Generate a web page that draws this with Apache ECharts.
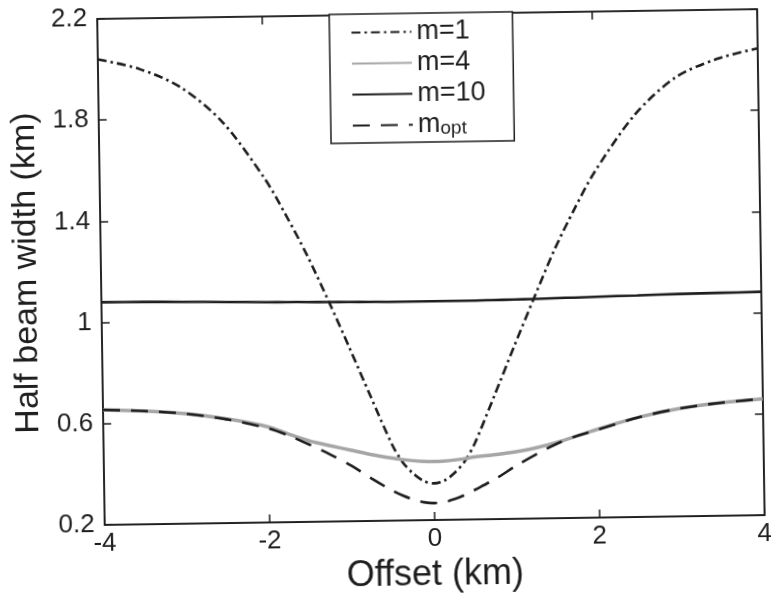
<!DOCTYPE html>
<html>
<head>
<meta charset="utf-8">
<script src="https://cdn.jsdelivr.net/npm/echarts@6/dist/echarts.min.js"></script>
<style>
html,body{margin:0;padding:0;background:#fff;}
#chart{width:771px;height:598px;transform:rotate(-0.85deg);transform-origin:432px 272px;}
</style>
</head>
<body>
<div id="chart"></div>
<script>
const offsets = [-4,-3.5,-3,-2.5,-2,-1.75,-1.5,-1.25,-1,-0.75,-0.5,-0.375,-0.25,-0.125,0,0.125,0.25,0.375,0.5,0.75,1,1.25,1.5,1.75,2,2.5,3,3.5,4];
const widthM1 = [2.04,2.00,1.925,1.785,1.56,1.415,1.255,1.075,0.885,0.69,0.50,0.43,0.385,0.355,0.345,0.355,0.385,0.43,0.50,0.69,0.885,1.075,1.26,1.42,1.565,1.79,1.935,2.005,2.045];
const widthM4 = [0.655,0.648,0.635,0.612,0.578,0.548,0.52,0.50,0.481,0.462,0.447,0.441,0.436,0.433,0.432,0.433,0.436,0.441,0.447,0.455,0.465,0.48,0.50,0.525,0.55,0.595,0.627,0.647,0.66];
const widthM10 = [1.08,1.079,1.077,1.074,1.071,1.07,1.069,1.068,1.067,1.066,1.065,1.065,1.065,1.065,1.065,1.065,1.065,1.065,1.065,1.066,1.067,1.068,1.07,1.071,1.073,1.076,1.079,1.081,1.083];
const widthMopt = [0.655,0.648,0.635,0.61,0.572,0.542,0.505,0.465,0.42,0.367,0.318,0.298,0.282,0.271,0.267,0.271,0.282,0.298,0.318,0.36,0.41,0.455,0.495,0.525,0.548,0.595,0.627,0.647,0.66];
const seriesNames = ['m=1','m=4','m=10','mopt'];
const xTitle = 'Offset (km)';
const yTitle = 'Half beam width (km)';

const pairs = ys => offsets.map((x,i)=>[x, ys[i]]);
const FONT = '"Liberation Sans", Arial, sans-serif';
const INK = '#1e1e1e';

const axisCommon = {
  axisLine:{show:true, onZero:false, lineStyle:{color:INK, width:1.6}},
  axisTick:{show:true, inside:true, length:8, lineStyle:{color:INK, width:1.5}},
  splitLine:{show:false}
};

const chart = echarts.init(document.getElementById('chart'));
chart.setOption({
  animation:false,
  backgroundColor:'#fff',
  grid:{left:101, right:8, top:14, bottom:69, show:true, borderColor:INK, borderWidth:1.6},
  legend:{
    orient:'vertical', left:333, top:13,
    data:seriesNames,
    itemWidth:60, itemHeight:14, itemGap:4,
    padding:[5,28,4,21],
    borderColor:INK, borderWidth:1.5, backgroundColor:'#fff',
    itemStyle:{opacity:0},
    textStyle:{fontFamily:FONT, fontSize:27, color:INK, lineHeight:24,
      rich:{s:{fontFamily:FONT, fontSize:19, color:INK, padding:[8,0,0,0]}}},
    formatter: n => n==='mopt' ? 'm{s|opt}' : n
  },
  xAxis:[Object.assign({
    type:'value', min:-4, max:4, interval:2,
    name:xTitle, nameLocation:'middle', nameGap:30,
    nameTextStyle:{fontFamily:FONT, fontSize:36, color:INK},
    axisLabel:{fontFamily:FONT, fontSize:26, color:INK, margin:6}
  }, axisCommon),
  Object.assign({
    type:'value', min:-4, max:4, interval:2, position:'top',
    axisLabel:{show:false}
  }, axisCommon)],
  yAxis:[Object.assign({
    type:'value', min:0.2, max:2.2, interval:0.4,
    name:yTitle, nameLocation:'middle', nameGap:54,
    nameTextStyle:{fontFamily:FONT, fontSize:34, color:INK},
    axisLabel:{fontFamily:FONT, fontSize:26, color:INK, margin:10}
  }, axisCommon),
  Object.assign({
    type:'value', min:0.2, max:2.2, interval:0.4, position:'right',
    axisLabel:{show:false}
  }, axisCommon)],
  series:[
    {name:'m=1', type:'line', data:pairs(widthM1), smooth:0.3, symbol:'none',
     lineStyle:{color:INK, width:2.6, type:[9,4,2.5,4]}, itemStyle:{color:INK}},
    {name:'m=4', type:'line', data:pairs(widthM4), smooth:0.3, symbol:'none',
     lineStyle:{color:'#a6a6a6', width:3.5}, itemStyle:{color:'#a6a6a6'}},
    {name:'m=10', type:'line', data:pairs(widthM10), smooth:0.3, symbol:'none',
     lineStyle:{color:INK, width:2.6}, itemStyle:{color:INK}},
    {name:'mopt', type:'line', data:pairs(widthMopt), smooth:0.3, symbol:'none',
     lineStyle:{color:INK, width:2.6, type:[17,11]}, itemStyle:{color:INK}}
  ]
});
</script>
</body>
</html>
